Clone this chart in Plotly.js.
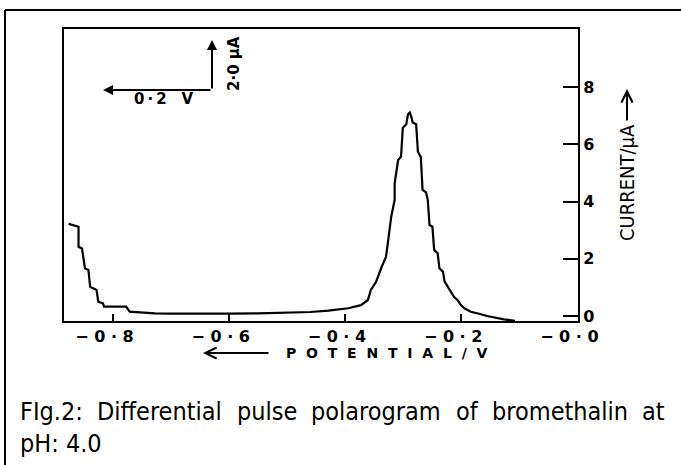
<!DOCTYPE html>
<html>
<head>
<meta charset="utf-8">
<script src="https://cdn.plot.ly/plotly-3.0.1.min.js"></script>
<style>
  html, body { margin: 0; padding: 0; background: #ffffff; }
  #chart { width: 681px; height: 465px; }
</style>
</head>
<body>
<div id="chart"></div>
<script>
// ---- data ----
const potential = [
  -0.876, -0.859, -0.859, -0.853, -0.848, -0.842, -0.839, -0.828, -0.825, -0.817,
  -0.815, -0.777, -0.771, -0.750, -0.728, -0.700, -0.650, -0.600, -0.550, -0.500,
  -0.460, -0.429, -0.395, -0.373, -0.361, -0.356, -0.347, -0.338, -0.330, -0.326,
  -0.321, -0.315, -0.315, -0.309, -0.304, -0.301, -0.295, -0.292, -0.289, -0.286,
  -0.284, -0.278, -0.275, -0.270, -0.267, -0.261, -0.258, -0.255, -0.250, -0.247,
  -0.241, -0.238, -0.232, -0.229, -0.224, -0.218, -0.213, -0.207, -0.201, -0.195,
  -0.184, -0.170, -0.156, -0.127, -0.108
];
const current = [
  3.22, 3.12, 2.42, 2.36, 1.67, 1.61, 1.02, 0.91, 0.50, 0.44,
  0.33, 0.33, 0.15, 0.11, 0.09, 0.08, 0.07, 0.08, 0.09, 0.11,
  0.14, 0.19, 0.27, 0.38, 0.56, 0.91, 1.19, 1.68, 2.06, 2.66,
  3.46, 4.06, 4.64, 5.45, 5.57, 6.58, 6.70, 7.05, 7.11, 6.94,
  6.76, 6.70, 5.74, 5.56, 4.41, 4.32, 4.06, 3.18, 3.12, 2.31,
  2.19, 1.67, 1.55, 1.20, 1.03, 0.85, 0.67, 0.56, 0.38, 0.27,
  0.15, 0.08, 0.00, -0.12, -0.17
];
const xTickVals = [-0.8, -0.6, -0.4, -0.2, 0.0];
const xTickText = ["\u2212 0 \u00b7 8", "\u2212 0 \u00b7 6", "\u2212 0 \u00b7 4", "\u2212 0 \u00b7 2", "\u2212 0 \u00b7 0"];
const yTickVals = [0, 2, 4, 6, 8];
const yTickText = ["0", "2", "4", "6", "8"];
const xTitle = "POTENTIAL/V";
const yTitle = "CURRENT/\u03bcA";
const scaleX = "0\u2009\u00b7\u20092\u2003V";
const scaleY = "2\u00b70 \u03bcA";
const captionLine1 = ["FIg.2:", "Differential", "pulse", "polarogram", "of", "bromethalin", "at"];
const captionLine2 = "pH: 4.0";

// ---- layout geometry (pixels) ----
const W = 681, H = 465;
const L = 64, R = 578, T = 29, B = 321;
const px = v => (v - L) / (R - L);
const py = v => (B - v) / (B - T);

const tickFont = { family: "DejaVu Sans", size: 16, color: "#000", weight: "bold" };
const spaced = s => s.split("").join("\u2002\u2009");
const pad = s => s + "\u00a0\u00a0\u00a0";

const capFamily = "DejaVu Sans Condensed";
const capSize = 25;
const capFont = { family: capFamily, size: capSize, color: "#000" };

// justify caption line 1 between x=19 and x=664
const ctx = document.createElement("canvas").getContext("2d");
ctx.font = capSize + "px '" + capFamily + "'";
const widths = captionLine1.map(w => ctx.measureText(w).width);
const capLeft = 19, capRight = 664;
const gap = (capRight - capLeft - widths.reduce((a, b) => a + b, 0)) / (captionLine1.length - 1);

const annotations = [
  // y title
  { xref: "paper", yref: "paper", x: px(627), y: py(183), text: yTitle, showarrow: false,
    textangle: -90, xanchor: "center", yanchor: "middle",
    font: { family: capFamily, size: 20, color: "#000" } },
  // y title arrow
  { xref: "paper", yref: "paper", x: px(627), y: py(89), ax: 0, ay: 33, text: "",
    showarrow: true, arrowhead: 5, arrowsize: 1.1, arrowwidth: 2, arrowcolor: "#000" },
  // x title
  { xref: "paper", yref: "paper", x: px(387), y: py(353), text: spaced(xTitle), showarrow: false,
    xanchor: "center", yanchor: "middle",
    font: { family: "DejaVu Sans", size: 14, color: "#000", weight: "bold" } },
  // x title arrow
  { xref: "paper", yref: "paper", x: px(203), y: py(353), ax: 67, ay: 0, text: "",
    showarrow: true, arrowhead: 5, arrowsize: 1.1, arrowwidth: 2, arrowcolor: "#000" },
  // scale bar arrows
  { xref: "paper", yref: "paper", x: px(212), y: py(40), ax: 0, ay: 50, text: "",
    showarrow: true, arrowhead: 2, arrowsize: 1, arrowwidth: 2, arrowcolor: "#000" },
  { xref: "paper", yref: "paper", x: px(103), y: py(90), ax: 109, ay: 0, text: "",
    showarrow: true, arrowhead: 2, arrowsize: 1, arrowwidth: 2, arrowcolor: "#000" },
  { xref: "paper", yref: "paper", x: px(164), y: py(99), text: scaleX, showarrow: false,
    xanchor: "center", yanchor: "middle", font: { family: "DejaVu Sans", size: 15, color: "#000", weight: "bold" } },
  { xref: "paper", yref: "paper", x: px(234), y: py(64), text: scaleY, showarrow: false,
    textangle: -90, xanchor: "center", yanchor: "middle",
    font: { family: "DejaVu Sans", size: 15, color: "#000", weight: "bold" } },
  // caption line 2
  { xref: "paper", yref: "paper", x: px(capLeft - 1), y: py(443), text: captionLine2, showarrow: false,
    xanchor: "left", yanchor: "middle", font: capFont }
];
// caption line 1, word by word (justified)
let cx = capLeft;
captionLine1.forEach((w, i) => {
  annotations.push({ xref: "paper", yref: "paper", x: px(cx - 1), y: py(411), text: w, showarrow: false,
    xanchor: "left", yanchor: "middle", font: capFont });
  cx += widths[i] + gap;
});

const shapes = [
  { type: "line", xref: "paper", yref: "paper", x0: px(5), y0: py(10), x1: px(700), y1: py(10),
    line: { color: "#000", width: 2 } },
  { type: "line", xref: "paper", yref: "paper", x0: px(5), y0: py(10), x1: px(5), y1: py(480),
    line: { color: "#000", width: 2 } }
];

const trace = {
  x: potential, y: current, type: "scatter", mode: "lines",
  line: { color: "#000", width: 2.2, shape: "linear" },
  hoverinfo: "skip", showlegend: false
};

const layout = {
  width: W, height: H,
  margin: { l: L, r: W - R, t: T, b: H - B, pad: 0 },
  paper_bgcolor: "#ffffff", plot_bgcolor: "#ffffff",
  showlegend: false,
  xaxis: {
    range: [-0.884, 0.0005], tickmode: "array", tickvals: xTickVals, ticktext: xTickText.map(pad),
    ticks: "inside", ticklen: 7, tickwidth: 2, tickcolor: "#000",
    showline: true, linewidth: 2, linecolor: "#000", mirror: true,
    showgrid: false, zeroline: false, tickfont: tickFont, fixedrange: true
  },
  yaxis: {
    range: [-0.175, 10.03], side: "right", tickmode: "array", tickvals: yTickVals, ticktext: yTickText,
    ticks: "inside", ticklen: 15, tickwidth: 2, tickcolor: "#000",
    showline: true, linewidth: 2, linecolor: "#000", mirror: true,
    showgrid: false, zeroline: false, tickfont: tickFont, fixedrange: true
  },
  annotations: annotations,
  shapes: shapes
};

Plotly.newPlot("chart", [trace], layout, { staticPlot: true, displayModeBar: false });
</script>
</body>
</html>
